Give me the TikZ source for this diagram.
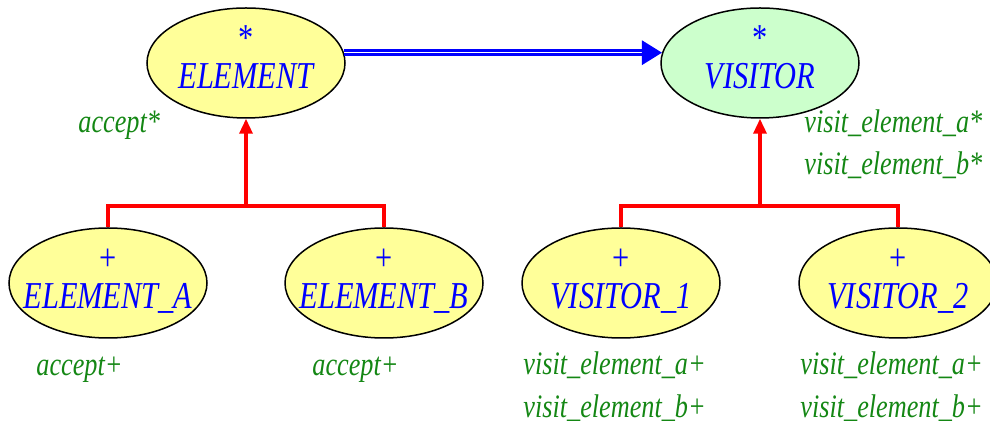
\documentclass[tikz,border=0pt]{standalone}
\usepackage{fontspec}
\setmainfont{Liberation Serif}
\newfontfamily\classfont[FakeStretch=0.8]{Liberation Serif}
\usetikzlibrary{shapes.geometric,arrows.meta}
\definecolor{classyellow}{RGB}{255,255,153}
\definecolor{deferredgreen}{RGB}{204,255,204}
\definecolor{featuregreen}{RGB}{20,135,20}
\newcommand{\classtext}[2]{\rule{0pt}{14pt}{\upshape #1}\\#2\rule[-7pt]{0pt}{7pt}}
\begin{document}
\begin{tikzpicture}
[x=0.5pt,y=-0.5pt,
 classstyle/.style={ellipse,draw=black,line width=0.75pt,fill=classyellow,%
   minimum width=99pt,minimum height=55pt,inner xsep=-8pt,inner ysep=-4pt,%
   align=center,text=blue,font=\classfont\fontsize{19}{19}\selectfont\itshape},
 featurestyle/.style={anchor=base west,inner sep=0pt,text=featuregreen,%
   font=\classfont\fontsize{16.4}{18}\selectfont\itshape},
 inheritstyle/.style={red,line width=1.7pt},
 clientstyle/.style={blue,line width=1.5pt,double=white,double distance=0.5pt}]
\useasboundingbox (0,0) rectangle (990,421);
%% deferred classes
\node[classstyle] (element) at (246,63) {\classtext{*}{ELEMENT}};
\node[classstyle,fill=deferredgreen] (visitor) at (760,63) {\classtext{*}{VISITOR}};
%% effective classes
\node[classstyle] (elementa) at (108,283) {\classtext{+}{ELEMENT\_A}};
\node[classstyle] (elementb) at (384,283) {\classtext{+}{ELEMENT\_B}};
\node[classstyle] (visitor1) at (621,283) {\classtext{+}{VISITOR\_1}};
\node[classstyle] (visitor2) at (898,283) {\classtext{+}{VISITOR\_2}};
%% client relation
\draw[clientstyle,-{Triangle[length=10pt,width=12pt]}] (element.6) -- (visitor.174);
%% inheritance
\coordinate (elementjoin) at (246,206);
\coordinate (visitorjoin) at (760,206);
\draw[inheritstyle] (elementa.north) |- (elementjoin) -| (elementb.north);
\draw[inheritstyle,-{Triangle[length=7.5pt,width=6.5pt]}] (elementjoin) -- (element.south);
\draw[inheritstyle] (visitor1.north) |- (visitorjoin) -| (visitor2.north);
\draw[inheritstyle,-{Triangle[length=7.5pt,width=6.5pt]}] (visitorjoin) -- (visitor.south);
%% features
\node[featurestyle] (acceptd) at (78,133) {accept*};
\node[featurestyle] (visitad) at (804,133) {visit\_element\_a*};
\node[featurestyle] (visitbd) at (804,175) {visit\_element\_b*};
\node[featurestyle] (accepta) at (36,376) {accept+};
\node[featurestyle] (acceptb) at (312,376) {accept+};
\node[featurestyle] (visita1) at (523,375) {visit\_element\_a+};
\node[featurestyle] (visitb1) at (523,418) {visit\_element\_b+};
\node[featurestyle] (visita2) at (800,375) {visit\_element\_a+};
\node[featurestyle] (visitb2) at (800,418) {visit\_element\_b+};
\end{tikzpicture}
\end{document}
